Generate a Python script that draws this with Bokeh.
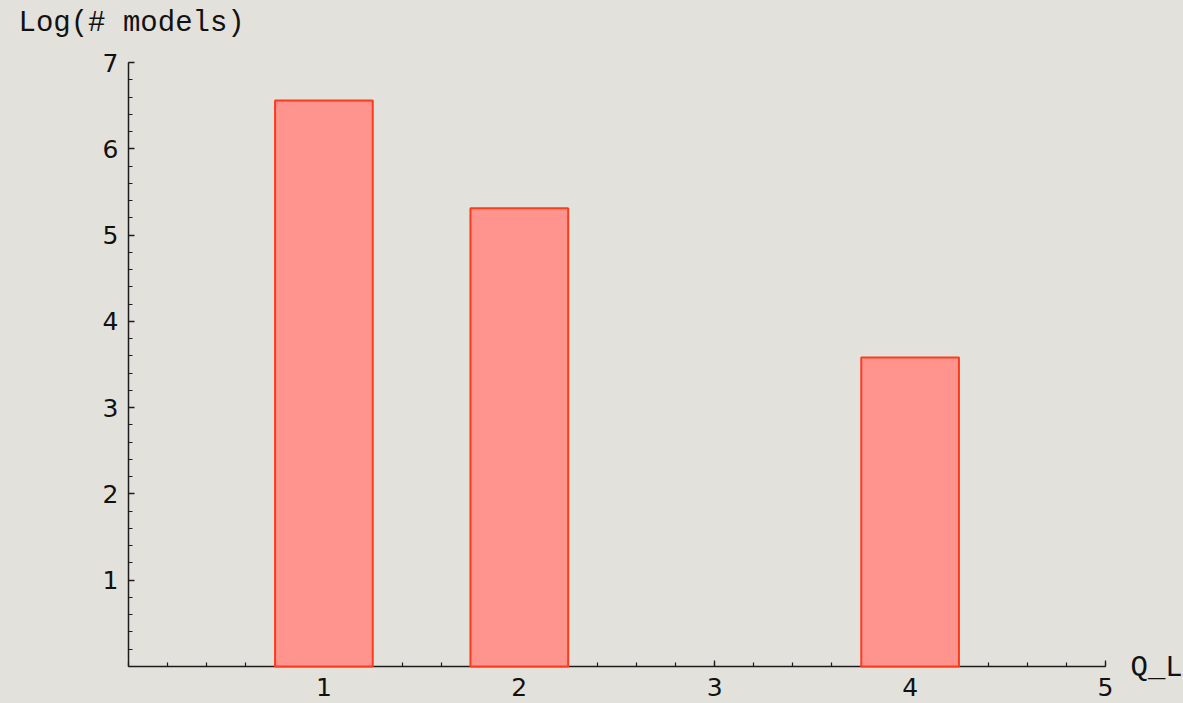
from bokeh.plotting import figure
from bokeh.models import FixedTicker, Label, Range1d, LinearAxis
from bokeh.embed import file_html
from bokeh.resources import INLINE

# data
q_l = [1, 2, 4]
log_models = [6.56, 5.31, 3.58]
x_tick_values = [1, 2, 3, 4, 5]
y_tick_values = [1, 2, 3, 4, 5, 6, 7]
x_minor = [round(i * 0.2, 1) for i in range(0, 26)]
y_minor = [round(i * 0.2, 1) for i in range(0, 36)]

BG = "#e3e1dc"
AXIS = "#1c1c1c"

W, H = 1183, 703
# pixel layout of axes inside the canvas
x0_px, x5_px = 128, 1105
y0_px, y7_px = 666, 62
xs = (x5_px - x0_px) / 5.0
ys = (y0_px - y7_px) / 7.0

p = figure(width=W, height=H, output_backend="svg", toolbar_location=None,
           x_range=Range1d(-x0_px / xs, 5 + (W - x5_px) / xs),
           y_range=Range1d(-(H - y0_px) / ys, 7 + y7_px / ys),
           x_axis_location=None, y_axis_location=None,
           min_border=0)
p.background_fill_color = BG
p.border_fill_color = BG
p.outline_line_color = None
p.grid.visible = False

bars = p.vbar(x=q_l, top=log_models, bottom=0, width=0.5,
              fill_color="#ff948f", line_color="#ff3b1c", line_width=2)
bars.level = "annotation"

xaxis = LinearAxis(fixed_location=0, bounds=(0, 5))
yaxis = LinearAxis(fixed_location=0, bounds=(0, 7))
p.add_layout(xaxis, "below")
p.add_layout(yaxis, "left")

for ax, ticks, minor in ((xaxis, x_tick_values, x_minor), (yaxis, y_tick_values, y_minor)):
    ax.ticker = FixedTicker(ticks=ticks, minor_ticks=minor)
    ax.axis_line_color = AXIS
    ax.axis_line_width = 1.5
    ax.major_tick_line_color = AXIS
    ax.minor_tick_line_color = AXIS
    ax.major_tick_line_width = 1.3
    ax.minor_tick_line_width = 1.2
    ax.major_tick_in = 6
    ax.major_tick_out = 0
    ax.minor_tick_in = 4
    ax.minor_tick_out = 0
    ax.major_label_text_font = "DejaVu Sans"
    ax.major_label_text_font_size = "25px"
    ax.major_label_text_color = "#111111"

xaxis.major_label_standoff = 11
yaxis.major_label_standoff = 10

title = Label(x=0, y=7, x_offset=-110, y_offset=39, text="Log(# models)",
              text_font="Liberation Mono", text_font_size="29px",
              text_color="#111111", text_baseline="middle", text_align="left")
xlab = Label(x=5, y=0, x_offset=25, y_offset=-2, text="Q_L",
             text_font="Liberation Mono", text_font_size="29px",
             text_color="#111111", text_baseline="middle", text_align="left")
p.add_layout(title)
p.add_layout(xlab)

html = file_html(p, INLINE)
html = html.replace("</head>", "<style>html,body{background:%s;overflow:hidden;}</style></head>" % BG, 1)
open("out.html", "w").write(html)
